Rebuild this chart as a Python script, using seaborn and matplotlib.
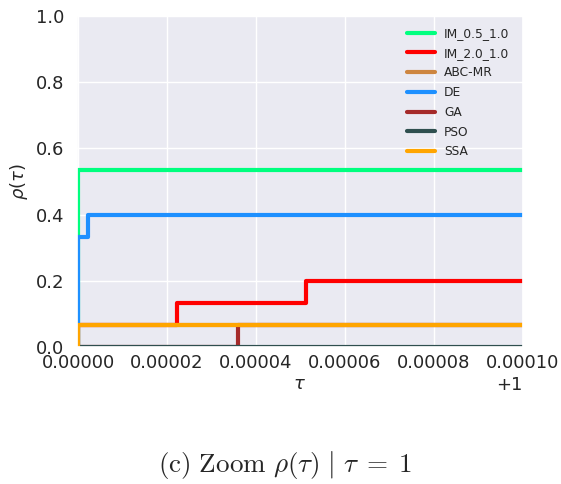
import numpy as np
import pandas as pd
import seaborn as sns
import matplotlib.pyplot as plt
from matplotlib.ticker import ScalarFormatter

# Performance profile data (15 problems), zoom on tau close to 1
solvers = ["IM_0.5_1.0", "IM_2.0_1.0", "ABC-MR", "DE", "GA", "PSO", "SSA"]
colors = ["springgreen", "red", "peru", "dodgerblue", "brown", "darkslategray", "orange"]

tau_im05 = [1.0, 1.0, 1.0002]
rho_im05 = [0.0, 8 / 15, 8 / 15]
tau_im20 = [1.0, 1.0, 1.0000222, 1.0000512, 1.0002]
rho_im20 = [0.0, 1 / 15, 2 / 15, 3 / 15, 3 / 15]
tau_abc = [1.0, 1.0, 1.0002]
rho_abc = [0.0, 1 / 15, 1 / 15]
tau_de = [1.0, 1.0, 1.0000022, 1.0002]
rho_de = [0.0, 5 / 15, 6 / 15, 6 / 15]
tau_ga = [1.0, 1.0000359, 1.0002]
rho_ga = [0.0, 1 / 15, 1 / 15]
tau_pso = [1.0, 1.0002]
rho_pso = [0.0, 0.0]
tau_ssa = [1.0, 1.0, 1.0002]
rho_ssa = [0.0, 1 / 15, 1 / 15]

taus = [tau_im05, tau_im20, tau_abc, tau_de, tau_ga, tau_pso, tau_ssa]
rhos = [rho_im05, rho_im20, rho_abc, rho_de, rho_ga, rho_pso, rho_ssa]

frames = []
for name, t, r in zip(solvers, taus, rhos):
    frames.append(pd.DataFrame({"tau": t, "rho": r, "solver": name}))
df = pd.concat(frames, ignore_index=True)

sns.set_theme(style="darkgrid")

fig = plt.figure(figsize=(5.61, 4.84), dpi=100)
ax = fig.add_axes([0.137, 0.283, 0.795, 0.684])

sns.lineplot(data=df, x="tau", y="rho", hue="solver", hue_order=solvers,
             palette=dict(zip(solvers, colors)), drawstyle="steps-post",
             estimator=None, sort=False, linewidth=3, ax=ax)

# small margin on the left so the steps at tau = 1 stay visible
ax.set_xlim(1.0 - 3e-7, 1.0001)
ax.set_ylim(0.0, 1.0)
ax.set_xticks(1.0 + np.arange(0, 6) * 0.00002)
ax.set_yticks(np.arange(0, 1.01, 0.2))
fmt = ScalarFormatter(useOffset=1.0)
fmt.set_scientific(False)
ax.xaxis.set_major_formatter(fmt)
ax.tick_params(axis="x", labelsize=13, pad=-1)
ax.tick_params(axis="y", labelsize=13, pad=3)
ax.xaxis.get_offset_text().set_fontsize(13)

ax.set_xlabel(r"$\tau$", fontsize=13, labelpad=2)
ax.set_ylabel(r"$\rho(\tau)$", fontsize=13)

ax.legend(loc="upper right", frameon=False, fontsize=8.8, handlelength=2.3,
          handletextpad=0.75, labelspacing=0.55, bbox_to_anchor=(0.995, 1.0))

fig.text(0.508, 0.04, r"$\mathrm{(c)\ Zoom}\ \rho(\tau)\ |\ \tau\;=\;1$",
         ha="center", va="center", fontsize=19.5, math_fontfamily="cm")

plt.savefig("out.png", dpi=100)
